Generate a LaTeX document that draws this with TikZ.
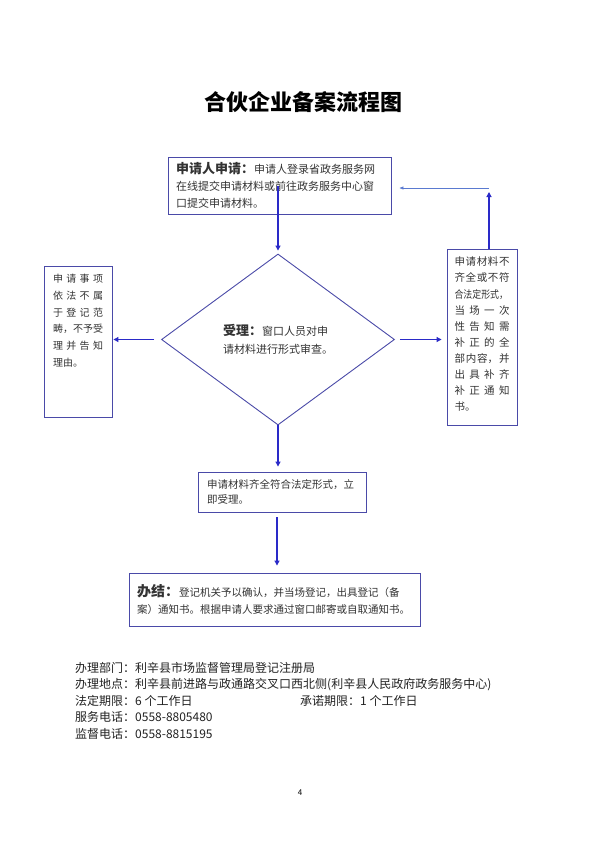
\documentclass[tikz,border=0pt]{standalone}
\usepackage{fontspec}
\setmainfont{Noto Sans CJK SC}
\usepackage{graphicx}
\usetikzlibrary{shapes.geometric,arrows.meta}
\definecolor{boxc}{HTML}{4A4AA8}
\definecolor{arrc}{HTML}{2A2AC8}
\definecolor{fbc}{HTML}{5A7AD0}
\definecolor{txtc}{HTML}{333333}
\definecolor{infoc}{HTML}{222222}
\tikzset{
  boxn/.style={draw=boxc, line width=0.9pt, inner sep=0pt, text=txtc},
  arr/.style={draw=arrc, line width=1.1pt, -{Triangle[width=5pt,length=5pt]}},
  fb/.style={draw=fbc, line width=0.6pt, -{Triangle[width=3pt,length=4pt]}},
}
\begin{document}
\begin{tikzpicture}[x=1pt,y=-1pt]
\useasboundingbox[fill=white] (0,0) rectangle (600,849);

\node (title) at (303.5,102) {\fontsize{22}{22}\selectfont\bfseries 合伙企业备案流程图};

\node[boxn, minimum width=223pt, minimum height=57pt] (app) at (279.5,185.5)
  {\parbox{207pt}{\fontsize{11}{17}\selectfont{\fontsize{13}{17}\selectfont\bfseries 申请人申请：}申请人登录省政务服务网\\在线提交申请材料或前往政务服务中心窗\\口提交申请材料。}};

\node[diamond, draw=boxc, line width=0.9pt, minimum width=233pt, minimum height=171pt, inner sep=0pt, text=txtc] (acc) at (278,339.5)
  {\parbox{110pt}{\fontsize{11}{18}\selectfont{\fontsize{13}{18}\selectfont\bfseries 受理：}窗口人员对申\\请材料进行形式审查。}};

\node[boxn, minimum width=68pt, minimum height=151pt] (rej) at (78,341.5)
  {\parbox[t][135pt][t]{50pt}{\fontsize{10}{16.8}\selectfont
  申\hfill 请\hfill 事\hfill 项\\
  依\hfill 法\hfill 不\hfill 属\\
  于\hfill 登\hfill 记\hfill 范\\
  畴，不予受\\
  理\hfill 并\hfill 告\hfill 知\\
  理由。}};

\node[boxn, minimum width=70pt, minimum height=176pt] (inc) at (482,337)
  {\parbox[t][160pt][t]{55pt}{\fontsize{10.5}{16.1}\selectfont
  申\hfill 请\hfill 材\hfill 料\hfill 不\\
  齐\hfill 全\hfill 或\hfill 不\hfill 符\\
  \scalebox{0.85}[1]{合法定形式，}\\
  当\hfill 场\hfill 一\hfill 次\\
  性\hfill 告\hfill 知\hfill 需\\
  补\hfill 正\hfill 的\hfill 全\\
  部\hfill 内\hfill 容，\hfill 并\\
  出\hfill 具\hfill 补\hfill 齐\\
  补\hfill 正\hfill 通\hfill 知\\
  书。}};

\node[boxn, minimum width=168pt, minimum height=40pt] (ok) at (282,492)
  {\parbox{150pt}{\fontsize{10.5}{14.5}\selectfont 申请材料齐全符合法定形式，立\\即受理。}};

\node[boxn, minimum width=291pt, minimum height=53pt] (done) at (274.5,599.5)
  {\parbox{275pt}{\fontsize{10.5}{17}\selectfont{\fontsize{14}{17}\selectfont\bfseries 办结：}登记机关予以确认，并当场登记，出具登记（备\\案）通知书。根据申请人要求通过窗口邮寄或自取通知书。}};

\node[anchor=north west, inner sep=0pt, text=infoc, align=left, font=\fontsize{12}{16.5}\selectfont] (info) at (75,662)
  {办理部门：利辛县市场监督管理局登记注册局\\
   办理地点：利辛县前进路与政通路交叉口西北侧(利辛县人民政府政务服务中心)\\
   \makebox[225pt][l]{法定期限：6 个工作日}承诺期限：1 个工作日\\
   服务电话：0558-8805480\\
   监督电话：0558-8815195};

\node (pg) at (300,793) {\fontsize{8}{8}\selectfont 4};

% connectors
\draw[arr, shorten >=3pt] (app.center -| acc.north) -- (acc.north);
\draw[arr, shorten <=7pt, shorten >=1pt] (acc.west) -- (acc.west -| rej.east);
\draw[arr, shorten <=5pt, shorten >=5pt] (acc.east) -- (acc.east -| inc.west);
\draw[arr, shorten >=5pt] (acc.south) -- (acc.south |- ok.north);
\coordinate (b3) at ([xshift=-5pt]ok.south);
\draw[arr, shorten <=5pt, shorten >=7pt] (b3) -- (b3 |- done.north);
\coordinate (fbtop) at (489,188);
\draw[arr, shorten >=4pt] (inc.north -| fbtop) -- (fbtop);
\draw[fb, shorten >=8pt] (fbtop) -- (fbtop -| app.east);
\end{tikzpicture}
\end{document}
